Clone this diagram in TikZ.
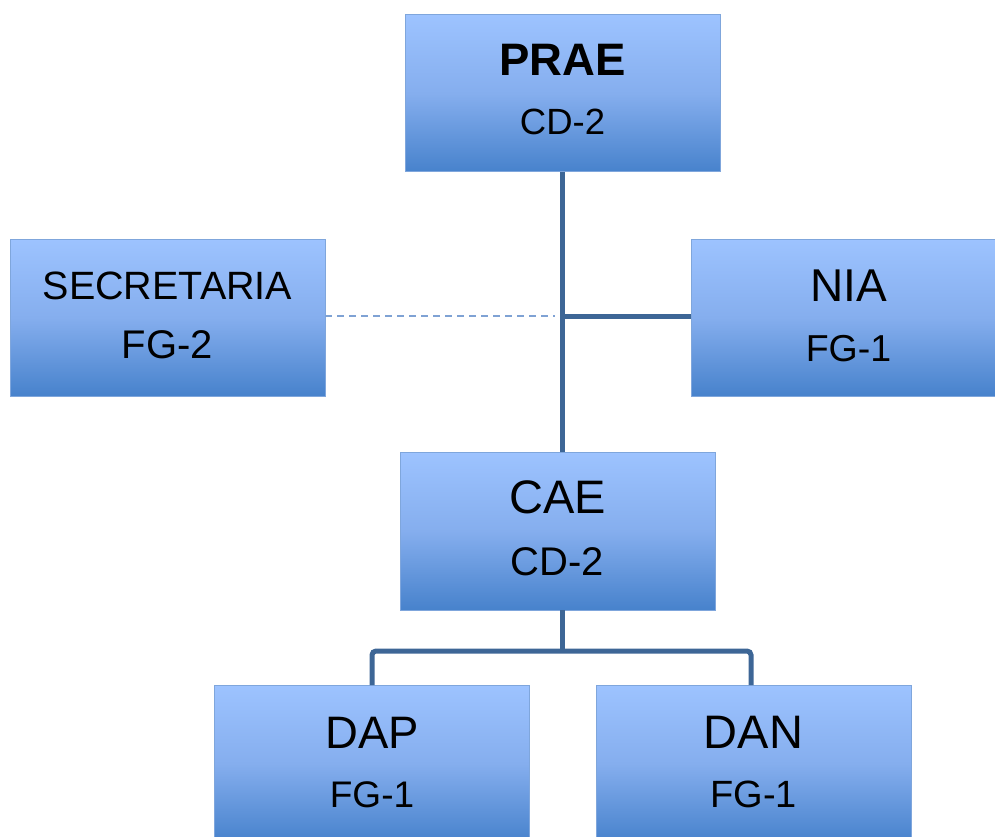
\documentclass[tikz,border=0pt]{standalone}
\usepackage{fontspec}
\setmainfont{Liberation Sans}
\definecolor{boxtop}{HTML}{9DC3FF}
\definecolor{boxmid}{HTML}{85AEEE}
\definecolor{boxbot}{HTML}{4782CC}
\definecolor{boxline}{HTML}{7FA6DC}
\definecolor{conn}{HTML}{3D6696}
\definecolor{dashc}{HTML}{7FA2D4}
\begin{document}
\begin{tikzpicture}[x=1pt,y=-1pt,
  orgbox/.style={draw=boxline, line width=1pt, top color=boxtop, bottom color=boxbot, middle color=boxmid,
    minimum width=315pt, minimum height=157pt, inner sep=0pt, outer sep=0pt},
  titletext/.style={anchor=base, font=\fontsize{46}{52}\selectfont, inner sep=0pt},
  subtext/.style={anchor=base, font=\fontsize{38}{44}\selectfont, inner sep=0pt},
  link/.style={draw=conn, line width=5pt},
  dashlink/.style={draw=dashc, line width=1.5pt, dash pattern=on 7pt off 5pt}]
\useasboundingbox (0,0) rectangle (995,837);
\clip (0,0) rectangle (995,837);
% boxes
\node[orgbox] (prae) at (562.5,93.5) {};
\node[orgbox] (sec) at (167.5,317.5) {};
\node[orgbox] (nia) at (848.5,317.5) {};
\node[orgbox, minimum height=158pt] (cae) at (557.5,531) {};
\node[orgbox] (dap) at (372,763.5) {};
\node[orgbox] (dan) at (753.5,763.5) {};
% texts
\node[titletext, font=\fontsize{45.5}{52}\selectfont\bfseries] (praeT) at (562.5,76) {PRAE};
\node[subtext, font=\fontsize{36.5}{42}\selectfont] (praeS) at (562.5,135) {CD-2};
\node[titletext, font=\fontsize{39.5}{46}\selectfont] (secT) at (167.5,299) {SECRETARIA};
\node[subtext, font=\fontsize{40}{46}\selectfont] (secS) at (167.5,358) {FG-2};
\node[titletext] (niaT) at (848.5,301) {NIA};
\node[subtext, font=\fontsize{37.5}{44}\selectfont] (niaS) at (848.5,361) {FG-1};
\node[titletext, font=\fontsize{47}{52}\selectfont] (caeT) at (557.5,513) {CAE};
\node[subtext, font=\fontsize{40}{46}\selectfont] (caeS) at (557.5,575) {CD-2};
\node[titletext, font=\fontsize{45.5}{52}\selectfont] (dapT) at (372,748) {DAP};
\node[subtext, font=\fontsize{37}{44}\selectfont] (dapS) at (372,807) {FG-1};
\node[titletext, font=\fontsize{47}{52}\selectfont] (danT) at (753.5,748) {DAN};
\node[subtext, font=\fontsize{38}{44}\selectfont] (danS) at (753.5,807) {FG-1};
% connectors
\coordinate (dashend) at (555,316);
\coordinate (split) at (562,651);
\coordinate (leftdrop) at (372,651);
\coordinate (rightdrop) at (751,651);
\draw[dashlink] (sec.east |- dashend) -- (dashend);
\draw[link] (prae.south) -- (prae.south |- cae.north);
\draw[link] (prae.south |- dashend) -- (nia.west |- dashend);
\draw[link] (cae.south -| split) -- (split);
\draw[link, rounded corners=4pt] (dap.north -| leftdrop) -- (leftdrop) -- (rightdrop) -- (dan.north -| rightdrop);
\end{tikzpicture}
\end{document}
